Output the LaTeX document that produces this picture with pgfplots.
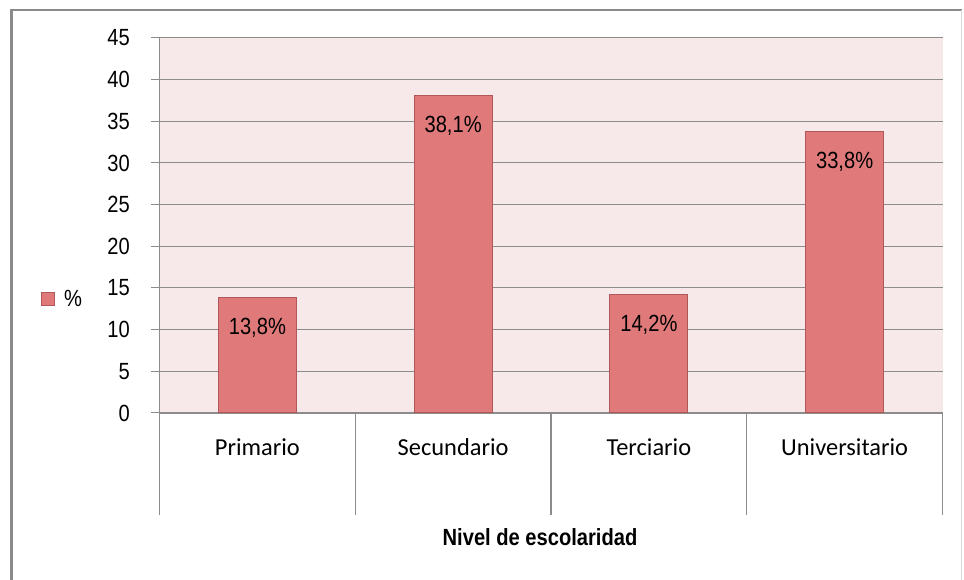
\documentclass[border=0pt]{standalone}
\usepackage{pgfplots}
\pgfplotsset{compat=1.18}
\usepackage{fontspec}
\setmainfont[FakeStretch=0.86]{Liberation Sans}
\newfontfamily\catfont{Carlito}
\definecolor{barfill}{RGB}{224,122,122}
\definecolor{barline}{RGB}{176,88,88}
\definecolor{plotbg}{RGB}{247,233,233}
\definecolor{gridc}{RGB}{140,140,140}
\definecolor{framec}{RGB}{138,138,138}
\newcommand{\numfont}{\fontsize{23.5}{28}\selectfont}
\begin{document}
\begin{tikzpicture}
\useasboundingbox (0,0) rectangle (964bp,580bp);
\draw[framec, line width=2.5bp] (11.5bp,-10bp) -- (11.5bp,570bp) -- (962bp,570bp);
\draw[gray!30, line width=0.8bp] (961bp,570bp) -- (961bp,-10bp);
\begin{axis}[
  at={(159.5bp,167bp)}, anchor=south west,
  scale only axis, width=783bp, height=375bp,
  xmin=-0.5, xmax=3.5, ymin=0, ymax=45,
  clip=false,
  /pgf/number format/assume math mode=true,
  ybar, bar width=78bp,
  axis x line*=bottom, axis y line*=left,
  axis line style={draw=gridc, line width=1.2bp, -},
  axis background/.style={fill=plotbg},
  ytick={0,5,...,45},
  ymajorgrids, major grid style={gridc, line width=1bp},
  tick align=outside, major tick length=8bp,
  ytick style={gridc, line width=1bp},
  xtick={0,1,2,3},
  xticklabels={Primario,Secundario,Terciario,Universitario},
  x tick style={draw=none},
  yticklabel style={font=\numfont, inner sep=0pt, xshift=-21.5bp},
  xticklabel style={font=\catfont\fontsize{24.5}{29}\selectfont, inner sep=0pt, anchor=base, yshift=-34bp},
  xlabel={Nivel de escolaridad},
  xlabel style={font=\bfseries\numfont, at={(axis description cs:0.486,0)}, anchor=base, inner sep=0pt, yshift=-132bp},
  nodes near coords={\pgfmathprintnumber[fixed,fixed zerofill,precision=1,use comma]{\pgfplotspointmeta}\%},
  every node near coord/.append style={font=\numfont, color=black, anchor=north, inner sep=0pt, yshift=-20bp},
  legend style={at={(axis description cs:-0.1513,0.304)}, anchor=west, draw=none, fill=none, inner sep=0pt, font=\numfont},
  legend image code/.code={\draw[fill=barfill, draw=barline, line width=0.8bp] (0bp,-6.5bp) rectangle (13bp,6.5bp);},
]
\addplot[fill=barfill, draw=barline, line width=1bp] coordinates {(0,13.8) (1,38.1) (2,14.2) (3,33.8)};
\addlegendentry{\hspace{7bp}\%}
\pgfplotsinvokeforeach{-0.5,0.5,1.5,2.5,3.5}{
  \draw[gridc, line width=1.2bp] (axis cs:#1,0) -- ++(0bp,-102bp);
}
\end{axis}
\end{tikzpicture}
\end{document}
